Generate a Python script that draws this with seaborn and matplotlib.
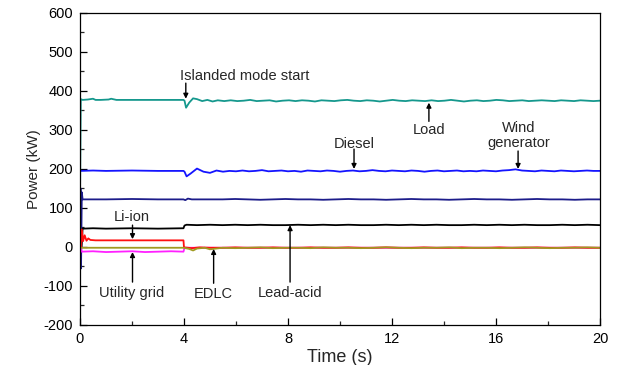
import numpy as np
import pandas as pd
import matplotlib
matplotlib.use("Agg")
import matplotlib.pyplot as plt
import seaborn as sns
from matplotlib.ticker import MultipleLocator

# ---------------- data ----------------
# transient part: explicit (time, power) samples; tail: values sampled uniformly from last time to 20 s
load_t = [0, 0.03, 0.1, 0.3, 0.5, 0.6, 0.8, 1.1, 1.2, 1.4, 2, 3, 3.98, 4.02, 4.08, 4.2, 4.35, 4.5, 4.7, 4.9, 5.1, 5.3]
load_p = [120, 379, 377, 378, 380, 377, 377, 378, 380, 377, 377, 377, 377, 375, 357, 370, 381, 379, 374, 377, 373, 376]
load_tail = [374, 376, 374, 375, 377, 374, 375, 376, 373, 375, 376, 374, 376, 375, 373, 376, 375, 374,
             376, 377, 375, 374, 376, 375, 373, 375, 377, 375, 374, 376, 375, 374, 376, 374, 375, 377,
             375, 373, 375, 376, 374, 375, 377, 376, 374, 375, 376, 374, 375, 376, 375, 374, 376, 375,
             374, 376, 375, 374, 375]

diesel_t = [0, 0.5, 1, 2, 3, 3.98, 4.02, 4.1, 4.25, 4.5, 4.75, 5.0, 5.25]
diesel_p = [195, 196, 195, 196, 195, 195, 193, 181, 188, 201, 193, 190, 196]
diesel_tail = [193, 195, 194, 196, 194, 195, 197, 194, 195, 196, 194, 195, 193, 196, 195, 194, 196, 195,
               193, 195, 196, 194, 195, 197, 195, 194, 196, 195, 194, 196, 195, 193, 195, 196, 194, 195,
               196, 194, 195, 194, 196, 195, 194, 196, 197, 199, 196, 195, 194, 196, 195, 194, 196, 195,
               194, 195, 196, 195, 195]

navy_t = [0, 0.02, 0.04, 0.07, 0.1, 1, 2, 3, 3.98, 4.05, 4.15, 4.3, 5.0]
navy_p = [0, 150, -55, 140, 122, 122, 123, 122, 122, 120, 124, 122, 122]
navy_tail = [122, 123, 122, 121, 122, 123, 122, 122, 121, 122, 123, 122, 122, 121, 122, 123, 122, 122,
             121, 122, 123, 122, 122, 121, 122, 123, 122, 122, 121, 122, 122]

lead_t = [0.06, 0.1, 0.5, 1, 2, 3, 3.98, 4.02, 4.1, 4.5, 5.0]
lead_p = [0, 47, 48, 47, 48, 47, 48, 55, 57, 56, 57]
lead_tail = [56, 57, 56, 57, 56, 56, 57, 56, 57, 56, 57, 56, 56, 57, 56, 57, 56, 57, 56, 56, 57, 56,
             57, 56, 57, 56, 56, 57, 56, 57, 56]

grid_t = [0.04, 0.06, 0.5, 1, 1.5, 2, 2.5, 3, 3.5, 3.98, 4.02, 5.0]
grid_p = [0, -12, -11, -13, -12, -11, -13, -12, -11, -12, -2, -2]
grid_tail = [-2, -2]

liion_t = [0.04, 0.07, 0.12, 0.18, 0.25, 0.32, 0.4, 0.6, 1, 2, 3, 3.98, 4.0, 4.3, 4.6, 5.0]
liion_p = [0, 45, 15, 30, 16, 22, 18, 17, 17, 17, 17, 17, -1, -3, -1, -2]
liion_tail = [-2, -1, -2, -2, -1, -2, -2, -1, -2, -2, -1, -2, -2, -1, -2, -2, -1, -2, -2, -1, -2, -2,
              -1, -2, -2, -1, -2, -2, -1, -2, -2]

edlc_t = [0, 1, 2, 3, 3.98, 4.2, 4.35, 4.5, 4.8, 5.0]
edlc_p = [-2, -2, -2, -2, -2, -5, -9, -4, -2, -6]
edlc_tail = [-2, -3, -2, -1, -3, -2, -2, -3, -1, -2, -2, -3, -2, -1, -2, -3, -2, -2, -1, -3, -2, -2,
             -3, -2, -1, -2, -3, -2, -2, -1, -2]

series_names = ["Load", "Diesel", "Navy", "Lead-acid", "Utility grid", "Li-ion", "EDLC"]
series_colors = ["#15988d", "#1414ff", "#1c1c8a", "#000000", "#ff20ff", "#ff1010", "#a09a20"]

# annotation texts and anchors (x, y in data units)
ann_text = ["Islanded mode start", "Load", "Diesel", "Wind\ngenerator", "Li-ion",
            "Utility grid", "EDLC", "Lead-acid"]
ann_text_xy = [(3.85, 439), (13.42, 301), (10.54, 264), (16.88, 286), (2.0, 77),
               (2.0, -118), (5.12, -121), (8.08, -118)]
ann_tip_xy = [(4.07, 380), (13.42, 370), (10.54, 200), (16.85, 200), (2.02, 20),
              (2.02, -13), (5.14, -5), (8.08, 56)]
ann_tail_xy = [(4.07, 420), (13.42, 322), (10.54, 251), (16.85, 246), (2.02, 56),
               (2.02, -90), (5.14, -93), (8.08, -90)]

# ---------------- build long-form table ----------------
def build(name, t, p, tail):
    t_all = list(t)
    p_all = list(p)
    start = t[-1]
    tt = np.linspace(start, 20, len(tail) + 1)[1:]
    t_all += list(tt)
    p_all += list(tail)
    return pd.DataFrame({"t": t_all, "p": p_all, "series": name})

frames = [
    build("Load", load_t, load_p, load_tail),
    build("Diesel", diesel_t, diesel_p, diesel_tail),
    build("Navy", navy_t, navy_p, navy_tail),
    build("Lead-acid", lead_t, lead_p, lead_tail),
    build("Utility grid", grid_t, grid_p, grid_tail),
    build("Li-ion", liion_t, liion_p, liion_tail),
    build("EDLC", edlc_t, edlc_p, edlc_tail),
]
df = pd.concat(frames, ignore_index=True)

# ---------------- plot ----------------
sns.set_style("ticks")
plt.rcParams["font.family"] = ["Liberation Sans", "DejaVu Sans"]
plt.rcParams["axes.unicode_minus"] = False

fig = plt.figure(figsize=(6.22, 3.65), dpi=100)
ax = fig.add_axes([0.1286, 0.1096, 0.836, 0.855])

sns.lineplot(data=df, x="t", y="p", hue="series", hue_order=series_names,
             palette=dict(zip(series_names, series_colors)), estimator=None,
             sort=False, legend=False, linewidth=1.3, ax=ax)

ax.set_xlim(0, 20)
ax.set_ylim(-200, 600)
ax.xaxis.set_major_locator(MultipleLocator(4))
ax.xaxis.set_minor_locator(MultipleLocator(2))
ax.yaxis.set_major_locator(MultipleLocator(100))
ax.yaxis.set_minor_locator(MultipleLocator(50))
ax.tick_params(which="major", direction="in", length=5, width=0.9, labelsize=10.5, pad=5,
               top=False, right=False, colors="black")
ax.tick_params(which="minor", direction="in", length=3, width=0.9, top=False, right=False)
for s in ax.spines.values():
    s.set_visible(True)
    s.set_linewidth(0.9)
    s.set_color("black")

ax.set_xlabel("Time (s)", fontsize=13, labelpad=2)
ax.set_ylabel("Power (kW)", fontsize=11, labelpad=2)

for txt, txy, tip, tail in zip(ann_text, ann_text_xy, ann_tip_xy, ann_tail_xy):
    ha = "left" if txt.startswith("Islanded") else "center"
    ax.text(txy[0], txy[1], txt, ha=ha, va="center", fontsize=10.5, linespacing=1.05)
    ax.annotate("", xy=tip, xytext=tail,
                arrowprops=dict(arrowstyle="-|>", color="black", lw=1.0,
                                mutation_scale=7, shrinkA=0, shrinkB=0))

fig.savefig("out.png", dpi=100)
